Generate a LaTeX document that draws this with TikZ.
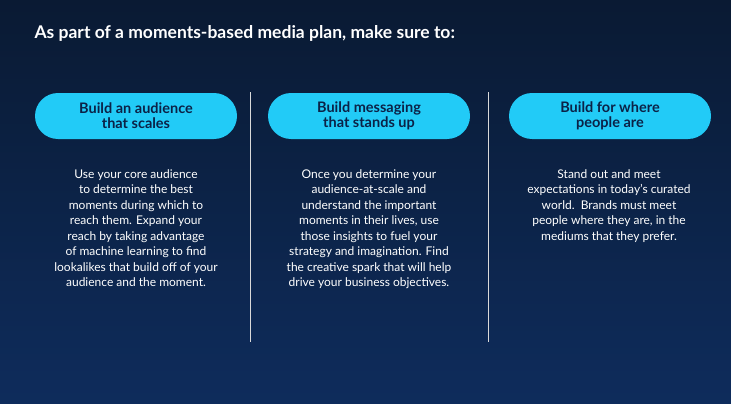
\documentclass[tikz,border=0pt]{standalone}
\usepackage{fontspec}
\setmainfont{Lato}
\definecolor{bgA}{HTML}{0A1A33}
\definecolor{bgB}{HTML}{0E2C5C}
\definecolor{pill}{HTML}{22CBF7}
\definecolor{pilltxt}{HTML}{0B2247}
\begin{document}
\begin{tikzpicture}[x=1pt,y=-1pt,
  pillbox/.style={fill=pill,rounded corners=23pt,minimum width=202pt,minimum height=46pt,text=pilltxt,font=\fontsize{14.5}{15}\selectfont\bfseries,align=center},
  bodytxt/.style={text=white,font=\fontsize{12}{15.5}\selectfont,align=center,anchor=north},
  divider/.style={draw=white!85!black,line width=1pt}]
\shade[left color=bgA,right color=bgB,shading angle=0] (0,0) rectangle (731,404);
\shade[top color=bgA,bottom color=bgB,opacity=0.5] (0,0) rectangle (731,404);
\useasboundingbox (0,0) rectangle (731,404);
\node[anchor=west,text=white,font=\fontsize{17.5}{20}\selectfont\bfseries] (title) at (31,33) {As part of a moments-based media plan, make sure to:};
\node[pillbox] (p1) at (136,116) {Build an audience\\that scales};
\node[pillbox] (p2) at (369,116) {Build messaging\\that stands up};
\node[pillbox] (p3) at (610,116) {Build for where\\people are};
\coordinate (d1a) at (250,92); \coordinate (d1b) at (250,342);
\coordinate (d2a) at (488,92); \coordinate (d2b) at (488,342);
\draw[divider] (d1a) -- (d1b);
\draw[divider] (d2a) -- (d2b);
\node[bodytxt] (t1) at (136,166) {Use your core audience\\to determine the best\\moments during which to\\reach them. Expand your\\reach by taking advantage\\of machine learning to find\\lookalikes that build off of your\\audience and the moment.};
\node[bodytxt] (t2) at (369,166) {Once you determine your\\audience-at-scale and\\understand the important\\moments in their lives, use\\those insights to fuel your\\strategy and imagination. Find\\the creative spark that will help\\drive your business objectives.};
\node[bodytxt] (t3) at (609,166) {Stand out and meet\\expectations in today’s curated\\world.\ \ Brands must meet\\people where they are, in the\\mediums that they prefer.};
\end{tikzpicture}
\end{document}
